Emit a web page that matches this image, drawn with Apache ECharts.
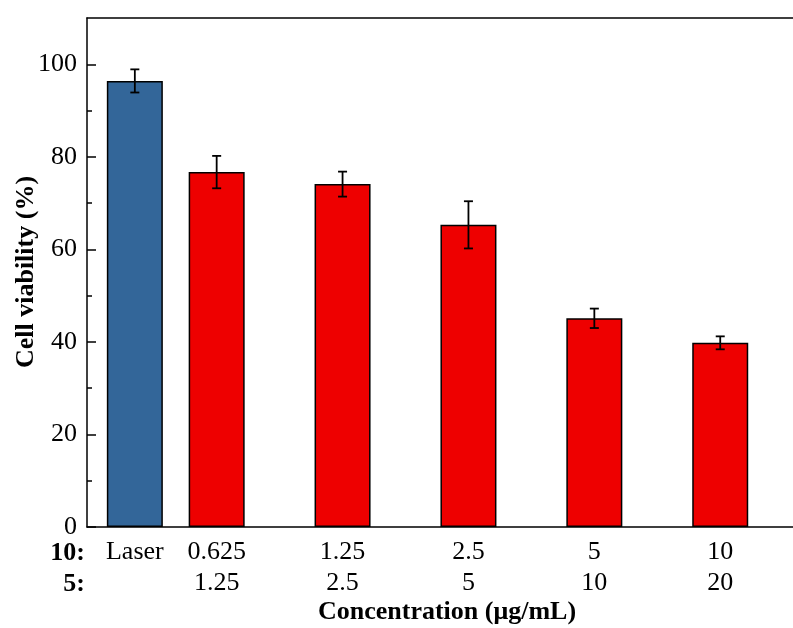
<!DOCTYPE html>
<html>
<head>
<meta charset="utf-8">
<script src="https://cdn.jsdelivr.net/npm/echarts@6/dist/echarts.min.js"></script>
<style>
  html, body { margin: 0; padding: 0; background: #fff; }
  #chart { width: 793px; height: 628px; }
</style>
</head>
<body>
<div id="chart"></div>
<script>
  // x labels: first row is 10 (µg/mL), second row is 5
  var rowTop = ['Laser', '0.625', '1.25', '2.5', '5', '10']
  var rowBottom = ['', '1.25', '2.5', '5', '10', '20']
  var xPos = [0.35, 1, 2, 3, 4, 5]
  var viability = [96.4, 76.7, 74.1, 65.3, 45.1, 39.8]
  var errors = [2.5, 3.5, 2.7, 5.1, 2.1, 1.4]
  var barColors = ['#336699', '#ee0000', '#ee0000', '#ee0000', '#ee0000', '#ee0000']
  var yTicks = [0, 20, 40, 60, 80, 100]
  var yMinorTicks = [10, 30, 50, 70, 90]

  var font = '"Liberation Serif", "Times New Roman", serif'
  var xMin = -0.03
  var xMax = 5.578

  var barData = xPos.map(function (x, i) {
    return {
      value: [x, viability[i]],
      itemStyle: { color: barColors[i] }
    }
  })
  var errData = xPos.map(function (x, i) {
    return [x, viability[i] - errors[i], viability[i] + errors[i]]
  })

  function labelFor(v) {
    for (var i = 0; i < xPos.length; i++) {
      if (Math.abs(xPos[i] - v) < 1e-6) return rowTop[i] + '\n' + (rowBottom[i] || ' ')
    }
    return ''
  }

  var chart = echarts.init(document.getElementById('chart'))
  chart.setOption({
    backgroundColor: '#fff',
    animation: false,
    grid: {
      left: 87,
      right: 0,
      top: 18,
      bottom: 101
    },
    xAxis: [{
      type: 'value',
      min: xMin,
      max: xMax,
      position: 'bottom',
      splitLine: { show: false },
      axisLine: { onZero: false, lineStyle: { color: '#000', width: 1.5 } },
      axisTick: { show: false },
      axisLabel: {
        customValues: xPos,
        formatter: labelFor,
        color: '#000',
        fontFamily: font,
        fontSize: 26,
        lineHeight: 31,
        margin: 10
      }
    }, {
      // top frame line
      type: 'value',
      min: xMin,
      max: xMax,
      position: 'top',
      splitLine: { show: false },
      axisLine: { onZero: false, lineStyle: { color: '#000', width: 1.5 } },
      axisTick: { show: false },
      axisLabel: { show: false }
    }],
    yAxis: [{
      type: 'value',
      min: 0,
      max: 110,
      position: 'left',
      splitLine: { show: false },
      axisLine: { show: true, onZero: false, lineStyle: { color: '#000', width: 1.5 } },
      axisTick: {
        inside: true,
        length: 9,
        customValues: yTicks,
        lineStyle: { color: '#000', width: 1.5 }
      },
      axisLabel: {
        customValues: yTicks,
        color: '#000',
        fontFamily: font,
        fontSize: 26,
        margin: 10
      }
    }, {
      type: 'value',
      min: 0,
      max: 110,
      position: 'left',
      splitLine: { show: false },
      axisLine: { show: false, onZero: false },
      axisLabel: { show: false },
      axisTick: {
        inside: true,
        length: 5,
        customValues: yMinorTicks,
        lineStyle: { color: '#000', width: 1.5 }
      }
    }],
    graphic: [{
      type: 'text',
      x: 26,
      y: 272,
      rotation: Math.PI / 2,
      style: {
        text: 'Cell viability (%)',
        font: 'bold 26px ' + font,
        fill: '#000',
        align: 'center',
        verticalAlign: 'middle'
      }
    }, {
      type: 'text',
      x: 85,
      y: 553,
      style: {
        text: '10:',
        font: 'bold 26px ' + font,
        fill: '#000',
        align: 'right',
        verticalAlign: 'middle'
      }
    }, {
      type: 'text',
      x: 85,
      y: 584,
      style: {
        text: '5:',
        font: 'bold 26px ' + font,
        fill: '#000',
        align: 'right',
        verticalAlign: 'middle'
      }
    }, {
      type: 'text',
      x: 447,
      y: 612,
      style: {
        text: 'Concentration (\u03bcg/mL)',
        font: 'bold 26px ' + font,
        fill: '#000',
        align: 'center',
        verticalAlign: 'middle'
      }
    }],
    series: [{
      type: 'bar',
      data: barData,
      barWidth: 56,
      itemStyle: { borderColor: '#000', borderWidth: 1.5 }
    }, {
      type: 'custom',
      data: errData,
      z: 5,
      renderItem: function (params, api) {
        var top = api.coord([api.value(0), api.value(2)])
        var bot = api.coord([api.value(0), api.value(1)])
        var w = 4.5
        var st = { stroke: '#000', lineWidth: 1.8 }
        return {
          type: 'group',
          children: [
            { type: 'line', shape: { x1: top[0], y1: top[1], x2: bot[0], y2: bot[1] }, style: st },
            { type: 'line', shape: { x1: top[0] - w, y1: top[1], x2: top[0] + w, y2: top[1] }, style: st },
            { type: 'line', shape: { x1: bot[0] - w, y1: bot[1], x2: bot[0] + w, y2: bot[1] }, style: st }
          ]
        }
      }
    }]
  })
</script>
</body>
</html>
